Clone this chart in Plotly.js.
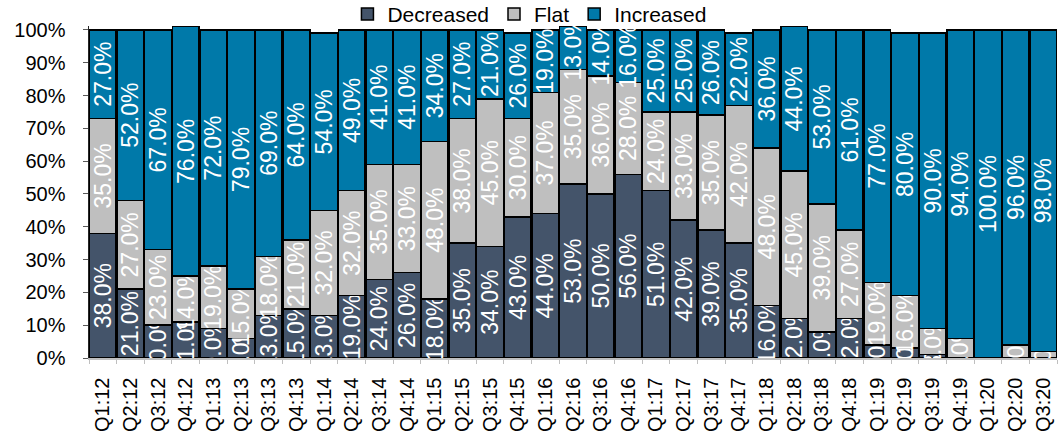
<!DOCTYPE html>
<html>
<head>
<meta charset="utf-8">
<script src="https://cdn.plot.ly/plotly-3.0.1.min.js"></script>
<style>html,body{margin:0;padding:0;background:#fff;}#chart{width:1058px;height:434px;}</style>
</head>
<body>
<div id="chart"></div>
<script>
const categories = ["Q1:12","Q2:12","Q3:12","Q4:12","Q1:13","Q2:13","Q3:13","Q4:13","Q1:14","Q2:14","Q3:14","Q4:14","Q1:15","Q2:15","Q3:15","Q4:15","Q1:16","Q2:16","Q3:16","Q4:16","Q1:17","Q2:17","Q3:17","Q4:17","Q1:18","Q2:18","Q3:18","Q4:18","Q1:19","Q2:19","Q3:19","Q4:19","Q1:20","Q2:20","Q3:20"];
const decreased = [38,21,10,11,9,6,13,15,13,19,24,26,18,35,34,43,44,53,50,56,51,42,39,35,16,12,8,12,4,3,1,0,0,0,0];
const flat      = [35,27,23,14,19,15,18,21,32,32,35,33,48,38,45,30,37,35,36,28,24,33,35,42,48,45,39,27,19,16,8,6,0,4,2];
const increased = [27,52,67,76,72,79,69,64,54,49,41,41,34,27,21,26,19,13,14,16,25,25,26,22,36,44,53,61,77,80,90,94,100,96,98];
const yTicks = [0,10,20,30,40,50,60,70,80,90,100];

const FONT = "Liberation Sans, Arial, sans-serif";
function series(name, vals, color) {
  return {
    type: "bar", name: name, x: categories, y: vals,
    marker: {color: color, line: {color: "#000000", width: 1.5}},
    texttemplate: "%{y:.1f}%", textposition: "inside", insidetextanchor: "middle",
    textangle: -90, constraintext: "none",
    insidetextfont: {family: FONT, size: 23, color: "#ffffff"},
    hoverinfo: "skip", cliponaxis: true
  };
}
const data = [
  series("Decreased", decreased, "#44546A"),
  series("Flat", flat, "#BFBFBF"),
  series("Increased", increased, "#0079A9")
];
const layout = {
  width: 1058, height: 434,
  margin: {l: 89, r: 1, t: 26, b: 76, autoexpand: false},
  paper_bgcolor: "#ffffff", plot_bgcolor: "#ffffff",
  barmode: "stack", bargap: 0.03,
  font: {family: FONT, size: 20, color: "#000000"},
  showlegend: true,
  legend: {orientation: "h", x: 0.455, xanchor: "center", y: 1.035, yanchor: "middle",
           traceorder: "normal", font: {family: FONT, size: 21, color: "#000"},
           itemwidth: 30, bgcolor: "rgba(0,0,0,0)"},
  xaxis: {type: "category", tickangle: -90, showgrid: false, zeroline: false,
          showline: true, linecolor: "#BFBFBF", linewidth: 1.5,
          ticks: "outside", tickson: "boundaries", ticklen: 4, tickcolor: "#BFBFBF",
          ticklabelstandoff: 10,
          tickfont: {family: FONT, size: 20, color: "#000"}},
  yaxis: {range: [0, 101.2], tickvals: yTicks, ticktext: yTicks.map(v => v + "%"),
          showgrid: false, zeroline: false, showline: true, linecolor: "#262626", linewidth: 1.5,
          ticks: "outside", ticklen: 5, tickcolor: "#595959", ticklabelstandoff: 13,
          tickfont: {family: FONT, size: 20, color: "#000"}}
};
Plotly.newPlot("chart", data, layout, {displayModeBar: false, staticPlot: true});
</script>
</body>
</html>
